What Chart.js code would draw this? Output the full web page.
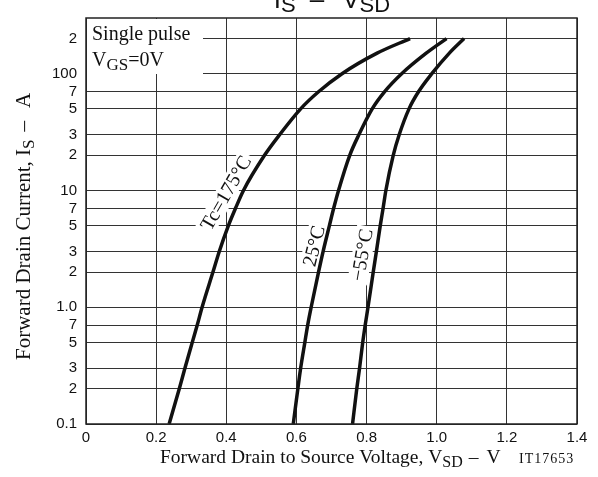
<!DOCTYPE html>
<html>
<head>
<meta charset="utf-8">
<script src="https://cdn.jsdelivr.net/npm/chart.js@4.4.0/dist/chart.umd.min.js"></script>
<style>
html,body{margin:0;padding:0;background:#fff;}
</style>
</head>
<body>
<canvas id="myChart" width="598" height="477"></canvas>
<script>
// drain current values (A) where the curves were read
var is_vals = [0.1, 0.2, 0.3, 0.5, 0.7, 1, 2, 3, 5, 7, 10, 20, 30, 50, 70, 100, 150, 200];
// forward voltage (V) of each curve at those currents
var vsd_175 = [0.237, 0.266, 0.282, 0.303, 0.317, 0.331, 0.362, 0.380, 0.406, 0.426, 0.449, 0.509, 0.552, 0.612, 0.663, 0.730, 0.830, 0.924];
var vsd_25  = [0.591, 0.604, 0.612, 0.624, 0.632, 0.642, 0.663, 0.676, 0.694, 0.706, 0.720, 0.752, 0.778, 0.816, 0.851, 0.900, 0.970, 1.028];
var vsd_m55 = [0.760, 0.772, 0.780, 0.789, 0.796, 0.804, 0.819, 0.828, 0.839, 0.847, 0.855, 0.876, 0.893, 0.921, 0.948, 0.986, 1.036, 1.078];
var curveNames = ["Tc=175°C", "25°C", "\u221255°C"];

var yTicks = [0.1, 0.2, 0.3, 0.5, 0.7, 1, 2, 3, 5, 7, 10, 20, 30, 50, 70, 100, 200];
var yTickLabels = ["0.1", "2", "3", "5", "7", "1.0", "2", "3", "5", "7", "10", "2", "3", "5", "7", "100", "2"];
var xTicks = [0, 0.2, 0.4, 0.6, 0.8, 1.0, 1.2, 1.4];
var xTickLabels = ["0", "0.2", "0.4", "0.6", "0.8", "1.0", "1.2", "1.4"];

function pts(xs){
  var out = [];
  for (var i = 0; i < xs.length; i++) out.push({x: xs[i], y: is_vals[i]});
  return out;
}

var SERIF = "'Liberation Serif', 'DejaVu Serif', serif";
var SANS = "'Liberation Sans', Arial, sans-serif";

// draws text pieces one after the other (for subscripts), returns width
function drawParts(ctx, parts, x, y, measureOnly){
  var w = 0;
  for (var i = 0; i < parts.length; i++){
    var p = parts[i];
    ctx.font = p.font;
    w += (p.gap || 0);
    if (!measureOnly) ctx.fillText(p.t, x + w, y + (p.dy || 0));
    w += ctx.measureText(p.t).width;
  }
  return w;
}

// white box + rotated label
function rotLabel(ctx, text, cx, cy, deg, size){
  ctx.save();
  ctx.translate(cx, cy);
  ctx.rotate(deg * Math.PI / 180);
  ctx.font = size + "px " + SERIF;
  var w = ctx.measureText(text).width;
  ctx.fillStyle = "#fff";
  ctx.fillRect(-w / 2 - 3, -size * 0.5, w + 6, size * 1.0);
  ctx.fillStyle = "#111";
  ctx.textAlign = "center";
  ctx.textBaseline = "middle";
  ctx.fillText(text, 0, 1);
  ctx.restore();
}

var extras = {
  id: "extras",
  beforeDatasetsDraw: function(chart){
    var ctx = chart.ctx, a = chart.chartArea;
    // note box top-left
    ctx.save();
    ctx.fillStyle = "#fff";
    ctx.fillRect(a.left + 1, a.top + 1, 116, 55);
    ctx.fillStyle = "#111";
    ctx.textBaseline = "alphabetic";
    ctx.font = "20px " + SERIF;
    ctx.fillText("Single pulse", a.left + 6, a.top + 22);
    drawParts(ctx, [
      {t: "V", font: "20px " + SERIF},
      {t: "GS", font: "17px " + SERIF, dy: 4},
      {t: "=0V", font: "20px " + SERIF}
    ], a.left + 6, a.top + 48);
    ctx.restore();

    rotLabel(ctx, curveNames[0], 226, 193, -60, 20);
    rotLabel(ctx, curveNames[1], 314, 246, -76, 20);
    rotLabel(ctx, curveNames[2], 362, 255, -80, 20);
  },
  afterDraw: function(chart){
    var ctx = chart.ctx, a = chart.chartArea;
    ctx.save();
    // frame
    ctx.strokeStyle = "#222";
    ctx.lineWidth = 1.5;
    ctx.strokeRect(a.left, a.top, a.right - a.left, a.bottom - a.top);

    ctx.fillStyle = "#111";
    ctx.textBaseline = "alphabetic";
    // top title, cut by the page edge
    var tparts = [
      {t: "I", font: "26px " + SANS},
      {t: "S", font: "22px " + SANS, dy: 4},
      {t: "\u2013", font: "26px " + SANS, gap: 14},
      {t: "V", font: "26px " + SANS, gap: 18},
      {t: "SD", font: "22px " + SANS, dy: 4}
    ];
    var tw = drawParts(ctx, tparts, 0, 0, true);
    drawParts(ctx, tparts, 332 - tw / 2, 8);

    // x title
    drawParts(ctx, [
      {t: "Forward Drain to Source Voltage, V", font: "19.5px " + SERIF},
      {t: "SD", font: "16px " + SERIF, dy: 4},
      {t: "\u2013", font: "19.5px " + SERIF, gap: 6},
      {t: "V", font: "19.5px " + SERIF, gap: 8}
    ], 160, 463);
    ctx.font = "14px " + SERIF;
    ctx.letterSpacing = "1px";
    ctx.fillText("IT17653", 519, 463);
    ctx.letterSpacing = "0px";

    // y title
    ctx.translate(30, 360);
    ctx.rotate(-Math.PI / 2);
    drawParts(ctx, [
      {t: "Forward Drain Current, I", font: "21px " + SERIF},
      {t: "S", font: "17px " + SERIF, dy: 4},
      {t: "\u2013", font: "21px " + SERIF, gap: 8},
      {t: "A", font: "21px " + SERIF, gap: 13}
    ], 0, 0);
    ctx.restore();
  }
};

var lineStyle = {borderColor: "#111", borderWidth: 3.5, pointRadius: 0, fill: false, cubicInterpolationMode: "monotone"};

new Chart("myChart", {
  type: "line",
  data: {
    datasets: [
      Object.assign({label: curveNames[0], data: pts(vsd_175)}, lineStyle),
      Object.assign({label: curveNames[1], data: pts(vsd_25)}, lineStyle),
      Object.assign({label: curveNames[2], data: pts(vsd_m55)}, lineStyle)
    ]
  },
  options: {
    responsive: false,
    animation: false,
    devicePixelRatio: 1,
    layout: {padding: {top: 16, right: 21, left: 0, bottom: 0}},
    plugins: {legend: {display: false}, tooltip: {enabled: false}},
    scales: {
      x: {
        type: "linear",
        min: 0, max: 1.4,
        afterBuildTicks: function(s){ s.ticks = xTicks.map(function(v){ return {value: v}; }); },
        afterFit: function(s){ s.height = 53; },
        grid: {color: "#333", lineWidth: 1, drawTicks: false},
        border: {display: false},
        ticks: {
          padding: 5,
          color: "#111",
          font: {family: SANS, size: 15},
          maxRotation: 0,
          autoSkip: false,
          callback: function(v){ return xTickLabels[xTicks.indexOf(v)]; }
        }
      },
      y: {
        type: "logarithmic",
        min: 0.1, max: 300,
        afterBuildTicks: function(s){ s.ticks = yTicks.map(function(v){ return {value: v}; }); },
        afterFit: function(s){ s.width = 86; },
        grid: {color: "#333", lineWidth: 1, drawTicks: false},
        border: {display: false},
        ticks: {
          padding: 9,
          color: "#111",
          font: {family: SANS, size: 15},
          autoSkip: false,
          callback: function(v){ return yTickLabels[yTicks.indexOf(v)]; }
        }
      }
    }
  },
  plugins: [extras]
});
</script>
</body>
</html>
